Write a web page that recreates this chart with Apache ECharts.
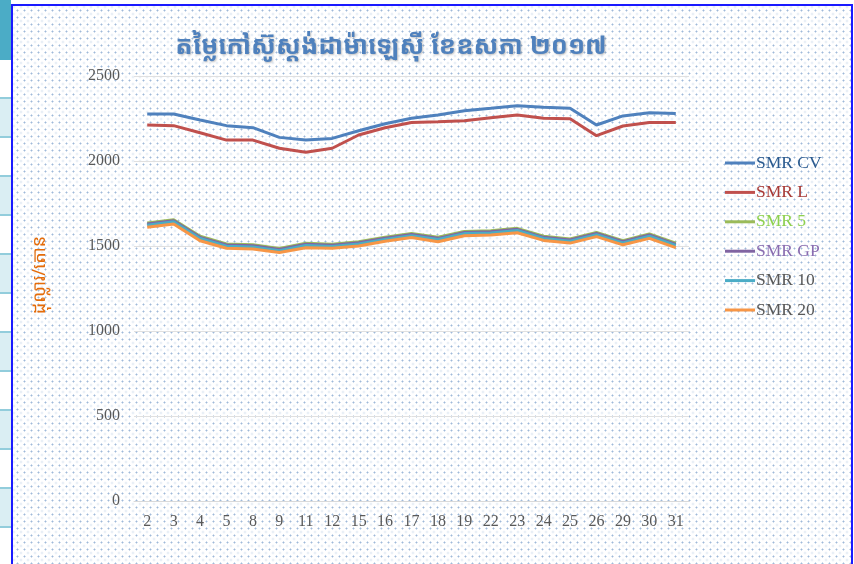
<!DOCTYPE html>
<html>
<head>
<meta charset="utf-8">
<script src="https://cdn.jsdelivr.net/npm/echarts@6/dist/echarts.min.js"></script>
<style>
html,body{margin:0;padding:0;width:854px;height:564px;overflow:hidden;background:#fff;}
#strip{position:absolute;left:0;top:0;width:11px;height:564px;
  background:repeating-linear-gradient(to bottom,#daeef3 0px,#daeef3 37px,#92cddc 37px,#92cddc 39px,#ffffff 39px,#ffffff 76px,#92cddc 76px,#92cddc 78px);
  background-position:0 21px;}
#stripTop{position:absolute;left:0;top:0;width:11px;height:60px;background:#4bacc6;}
#frame{position:absolute;left:11px;top:4px;width:838px;height:570px;border:2px solid #1a1aff;
  background-color:#fff;
  background-image:radial-gradient(circle,#9fb9d9 0.8px,transparent 1.2px),radial-gradient(circle,#d3e0ee 0.8px,transparent 1.2px);
  background-size:7px 7px,7px 7px;background-position:1px 1px,4.5px 4.5px;}
#chart{position:absolute;left:0;top:0;width:854px;height:564px;}
</style>
</head>
<body>
<div id="strip"></div><div id="stripTop"></div>
<div id="frame"></div>
<div id="chart"></div>
<script>
const titleText = 'តម្លៃកៅស៊ូស្តង់ដាម៉ាឡេស៊ី ខែឧសភា ២០១៧';
const yAxisName = 'ដុល្លារ/តោន';
const days = ['2','3','4','5','8','9','11','12','15','16','17','18','19','22','23','24','25','26','29','30','31'];
const smrCV = [2276,2276,2241,2208,2196,2139,2123,2133,2178,2219,2251,2270,2296,2310,2325,2316,2310,2212,2265,2284,2280];
const smrL  = [2212,2208,2166,2123,2123,2075,2051,2075,2153,2196,2227,2231,2237,2255,2270,2251,2249,2149,2206,2227,2227];
const smr5  = [1635,1655,1557,1512,1507,1485,1516,1510,1525,1551,1574,1551,1586,1590,1604,1557,1541,1580,1531,1571,1516];
const smrGP = [1629,1649,1551,1506,1501,1479,1510,1504,1519,1545,1568,1545,1580,1584,1598,1551,1535,1574,1525,1565,1510];
const smr10 = [1622,1642,1544,1499,1494,1472,1503,1497,1512,1538,1561,1538,1573,1577,1591,1544,1528,1567,1518,1558,1503];
const smr20 = [1610,1629,1531,1487,1482,1462,1490,1487,1500,1528,1550,1525,1560,1565,1578,1533,1517,1555,1507,1545,1490];
const seriesNames = ['SMR CV','SMR L','SMR 5','SMR GP','SMR 10','SMR 20'];
const seriesData = [smrCV, smrL, smr5, smrGP, smr10, smr20];
const colors = ['#4f81bd','#c0504d','#9bbb59','#8064a2','#4bacc6','#f79646'];
const legendTextColors = ['#2a5a8f','#a83a37','#8ed14f','#8a6db0','#595959','#595959'];

const chart = echarts.init(document.getElementById('chart'), null, {renderer:'canvas'});
const serif = '"Liberation Serif","DejaVu Serif",serif';
const khmer = '"Noto Sans Khmer","Khmer OS","Khmer OS System",sans-serif';
chart.setOption({
  backgroundColor:'transparent',
  animation:false,
  color:colors,
  title:{
    text:titleText,
    left:386, top:29, textAlign:'center',
    textStyle:{fontSize:25.5,fontWeight:'bold',color:'#4f81bd',fontFamily:khmer,
      textShadowColor:'rgba(0,0,0,0.25)',textShadowBlur:2,textShadowOffsetX:1,textShadowOffsetY:1}
  },
  legend:{
    orient:'vertical', left:725, top:154, padding:0, itemGap:11.4, itemWidth:30, itemHeight:3,
    icon:'rect',
    data:seriesNames.map((n,i)=>({name:n,textStyle:{color:legendTextColors[i]}})),
    textStyle:{fontSize:17.5,fontFamily:serif,padding:[0,0,0,-4]}
  },
  grid:{left:134,right:165,top:76,bottom:63},
  xAxis:{
    type:'category', data:days, boundaryGap:true,
    axisLine:{lineStyle:{color:'#d9d9d9',width:1}},
    axisTick:{show:false},
    axisLabel:{color:'#595959',fontSize:16,fontFamily:serif,margin:13}
  },
  yAxis:{
    type:'value', min:0, max:2500, interval:500,
    axisLine:{show:false}, axisTick:{show:false},
    axisLabel:{color:'#595959',fontSize:16,fontFamily:serif,margin:14,formatter:v=>String(v)},
    splitLine:{lineStyle:{color:'#e0e0e0',width:1}}
  },
  graphic:[{
    type:'text', x:40, y:275, rotation:Math.PI/2,
    style:{text:yAxisName, fill:'#e46c0a', font:'18px '+khmer, textAlign:'center', textVerticalAlign:'middle'}
  }],
  series:seriesNames.map((n,i)=>({
    name:n, type:'line', data:seriesData[i], symbol:'none',
    lineStyle:{width:3,color:colors[i]}, itemStyle:{color:colors[i]}
  }))
});
</script>
</body>
</html>
